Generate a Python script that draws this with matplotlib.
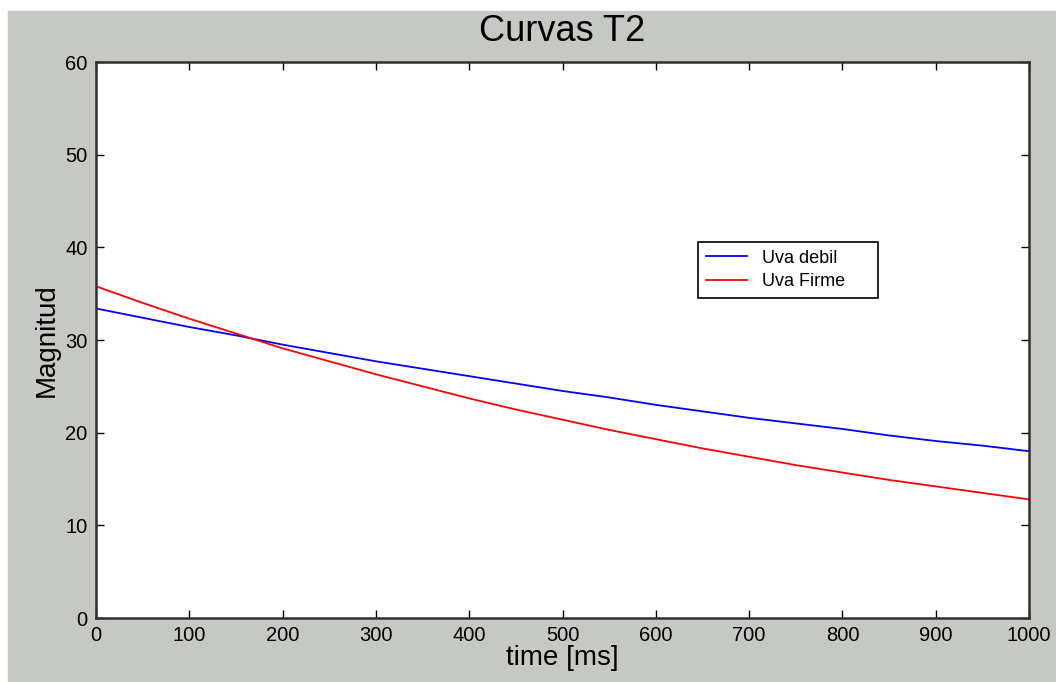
import matplotlib.pyplot as plt

# time axis (ms) and the two T2 decay curves
time_ms = [0, 50, 100, 150, 200, 250, 300, 350, 400, 450, 500,
           550, 600, 650, 700, 750, 800, 850, 900, 950, 1000]
uva_debil = [33.4, 32.4, 31.4, 30.5, 29.5, 28.6, 27.7, 26.9, 26.1, 25.3, 24.5,
             23.8, 23.0, 22.3, 21.6, 21.0, 20.4, 19.7, 19.1, 18.6, 18.0]
uva_firme = [35.8, 34.0, 32.3, 30.7, 29.1, 27.7, 26.3, 25.0, 23.7, 22.5, 21.4,
             20.3, 19.3, 18.3, 17.4, 16.5, 15.7, 14.9, 14.2, 13.5, 12.8]
x_ticks = [0, 100, 200, 300, 400, 500, 600, 700, 800, 900, 1000]
y_ticks = [0, 10, 20, 30, 40, 50, 60]

plt.rcParams['font.family'] = ['Liberation Sans', 'DejaVu Sans']

bg = '#c6c9c3'
fig = plt.figure(figsize=(10.56, 6.82), dpi=100, facecolor='white')
# gray panel, leaving a thin white strip at the top and left
fig.patches.append(plt.Rectangle((8 / 1056, 0), 1 - 8 / 1056, 1 - 11 / 682,
                                 transform=fig.transFigure, color=bg, zorder=-10))

ax = fig.add_axes([96 / 1056, 1 - 618 / 682, 933 / 1056, 556 / 682])
ax.set_facecolor('white')

ax.plot(time_ms, uva_debil, color='#0000ff', lw=1.3, label='Uva debil')
ax.plot(time_ms, uva_firme, color='#ff0000', lw=1.3, label='Uva Firme')

ax.set_xlim(0, 1000)
ax.set_ylim(0, 60)
ax.set_xticks(x_ticks)
ax.set_yticks(y_ticks)
ax.tick_params(direction='in', length=6, width=1, top=True, right=True,
               labelsize=14.5, colors='black', pad=6)
for s in ax.spines.values():
    s.set_linewidth(1.8)
    s.set_color('#303030')

ax.set_xlabel('time [ms]', fontsize=20, labelpad=0)
ax.set_ylabel('Magnitud', fontsize=20, labelpad=4)
ax.set_title('Curvas T2', fontsize=26, pad=15)

leg = ax.legend(loc='upper left', bbox_to_anchor=(0.645, 0.572, 0.193, 0.105),
                mode='expand', fontsize=13,
                handlelength=2.3, handletextpad=0.8, borderpad=0.45,
                labelspacing=0.35, borderaxespad=0, fancybox=False, framealpha=1)
leg.get_frame().set_edgecolor('black')
leg.get_frame().set_linewidth(1.2)

plt.savefig('out.png', dpi=100, facecolor=fig.get_facecolor())
